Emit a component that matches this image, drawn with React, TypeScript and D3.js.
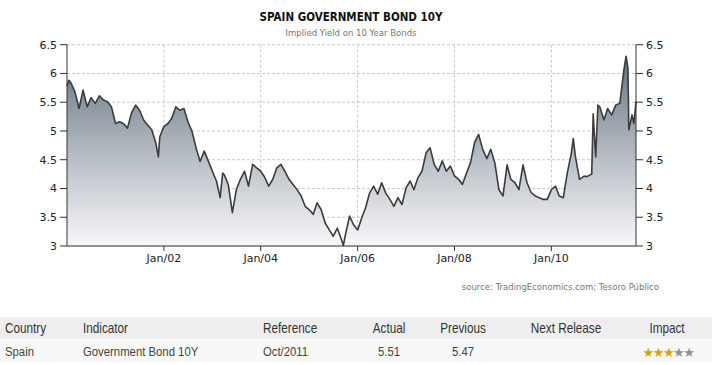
import React from 'react';
import { scaleTime, scaleLinear, line, area, timeParse, timeFormat } from 'd3';

// monthly yields (first of each month)
const yields2000 = [5.78, 5.83, 5.68, 5.39, 5.71, 5.42, 5.58, 5.48, 5.61, 5.54, 5.51, 5.42];
const yields2001 = [5.13, 5.16, 5.13, 5.05, 5.31, 5.45, 5.36, 5.19, 5.10, 5.02, 4.79, 4.90];
const yields2002 = [5.08, 5.13, 5.22, 5.42, 5.36, 5.39, 5.16, 4.99, 4.70, 4.47, 4.65, 4.48];
const yields2003 = [4.30, 4.13, 3.84, 4.24, 4.07, 3.58, 3.98, 4.16, 4.30, 4.04, 4.42, 4.36];
const yields2004 = [4.30, 4.19, 4.04, 4.16, 4.36, 4.42, 4.30, 4.16, 4.07, 3.98, 3.87, 3.69];
const yields2005 = [3.63, 3.55, 3.75, 3.63, 3.40, 3.28, 3.17, 3.31, 3.11, 3.20, 3.52, 3.37];
const yields2006 = [3.28, 3.49, 3.66, 3.92, 4.04, 3.90, 4.10, 3.92, 3.81, 3.69, 3.84, 3.72];
const yields2007 = [4.01, 4.13, 3.98, 4.19, 4.30, 4.62, 4.71, 4.42, 4.30, 4.48, 4.30, 4.39];
const yields2008 = [4.22, 4.16, 4.07, 4.27, 4.45, 4.80, 4.94, 4.68, 4.52, 4.68, 4.44, 3.98];
const yields2009 = [3.87, 4.41, 4.16, 4.10, 3.98, 4.41, 4.10, 3.93, 3.87, 3.84, 3.81, 3.81];
const yields2010 = [3.98, 4.04, 3.87, 3.84, 4.27, 4.62, 4.56, 4.16, 4.21, 4.21, 4.25, 4.55];
const yields2011 = [5.42, 5.19, 5.39, 5.28, 5.45, 5.48, 6.05, 6.10, 5.28, 5.51];

// intra-month highs / lows
const spikes: Array<[string, number]> = [
    ['2000-01-15', 5.88],
    ['2001-11-20', 4.55],
    ['2003-03-20', 4.27],
    ['2005-09-15', 3.01],
    ['2010-06-15', 4.87],
    ['2010-11-12', 5.30],
    ['2010-12-18', 5.45],
    ['2011-07-18', 6.30],
    ['2011-08-08', 5.02],
    ['2011-09-15', 5.13]
];

const yTicks = [3, 3.5, 4, 4.5, 5, 5.5, 6, 6.5];
const xTickDates = ['2002-01-01', '2004-01-01', '2006-01-01', '2008-01-01', '2010-01-01'];

const tableHeader = ['Country', 'Indicator', 'Reference', 'Actual', 'Previous', 'Next Release', 'Impact'];
const tableRow = ['Spain', 'Government Bond 10Y', 'Oct/2011', '5.51', '5.47', ''];
const impactStars = 3;

interface iPoint { date: Date, value: number }

const parse = timeParse('%Y-%m-%d');

function buildSeries(): Array<iPoint> {
    const years = [yields2000, yields2001, yields2002, yields2003, yields2004, yields2005,
        yields2006, yields2007, yields2008, yields2009, yields2010, yields2011];
    let pts: Array<iPoint> = [];
    years.forEach((arr, yi) => arr.forEach((v, mi) => pts.push({ date: new Date(2000 + yi, mi, 1), value: v })));
    spikes.forEach(s => pts.push({ date: parse(s[0]) as Date, value: s[1] }));
    pts.sort((a, b) => a.date.getTime() - b.date.getTime());
    return pts;
}

const App = () => {
    const data = buildSeries();
    const left = 67, right = 636, top = 44.7, bottom = 246;

    const x = scaleTime().domain([data[0].date, data[data.length - 1].date]).range([left, right]);
    const y = scaleLinear().domain([3, 6.5]).range([bottom, top]);

    const linefunc = line<iPoint>().x(d => x(d.date)).y(d => y(d.value));
    const areafunc = area<iPoint>().x(d => x(d.date)).y0(bottom).y1(d => y(d.value));
    const fmt = timeFormat('%b/%y');

    const axisFont = 'Tahoma, "DejaVu Sans", Verdana, sans-serif';
    const tableFont = '"Liberation Sans", Arial, sans-serif';
    const colX = [5, 83, 263, 389, 463, 566, 667];
    const narrow = 0.84;

    return (
        <svg width={712} height={365} style={{ position: 'absolute', left: 0, top: 0 }}>
            <defs>
                <linearGradient id="fillGrad" gradientUnits="userSpaceOnUse" x1={0} y1={top} x2={0} y2={bottom}>
                    <stop offset="0%" stopColor="#56636f" />
                    <stop offset="30%" stopColor="#8d98a3" />
                    <stop offset="65%" stopColor="#c5cad0" />
                    <stop offset="100%" stopColor="#f7f7f8" />
                </linearGradient>
            </defs>
            <rect x={0} y={0} width={712} height={365} fill="#fff" />

            <text x={351} y={21} textAnchor="middle" fontFamily='"DejaVu Sans Condensed", "DejaVu Sans", sans-serif' fontWeight="bold" fontSize={11.5} fill="#111">SPAIN GOVERNMENT BOND 10Y</text>
            <text x={351} y={36} textAnchor="middle" fontFamily={axisFont} fontSize={8.5} fill="#777">Implied Yield on 10 Year Bonds</text>

            {/* grid */}
            <g>
                {yTicks.map(t => (
                    <line key={t} x1={left} x2={right} y1={y(t)} y2={y(t)} stroke="#c8c8c8" strokeDasharray="3,2" />
                ))}
                {xTickDates.map(d => (
                    <line key={d} x1={x(parse(d) as Date)} x2={x(parse(d) as Date)} y1={top} y2={bottom} stroke="#c8c8c8" strokeDasharray="3,2" />
                ))}
            </g>

            <path d={areafunc(data) as string} fill="url(#fillGrad)" />
            <path d={linefunc(data) as string} fill="none" stroke="#3c3c3c" strokeWidth={1.6} strokeLinejoin="round" />

            {/* axes */}
            <line x1={left} x2={left} y1={top} y2={bottom} stroke="#333" strokeWidth={1} />
            <line x1={right} x2={right} y1={top} y2={bottom} stroke="#333" strokeWidth={1} />
            <line x1={left} x2={right} y1={bottom} y2={bottom} stroke="#333" strokeWidth={1} />
            {yTicks.map(t => (
                <g key={t}>
                    <line x1={left - 7} x2={left} y1={y(t)} y2={y(t)} stroke="#333" />
                    <text x={left - 10} y={y(t) + 4} textAnchor="end" fontFamily={axisFont} fontSize={11} fill="#222">{t}</text>
                    <line x1={right} x2={right + 7} y1={y(t)} y2={y(t)} stroke="#333" />
                    <text x={right + 10} y={y(t) + 4} textAnchor="start" fontFamily={axisFont} fontSize={11} fill="#222">{t}</text>
                </g>
            ))}
            {xTickDates.map(d => {
                const dt = parse(d) as Date;
                return (
                    <g key={d} transform={`translate(${x(dt)},${bottom})`}>
                        <line y2={5} stroke="#333" />
                        <text y={16} textAnchor="middle" fontFamily={axisFont} fontSize={11} fill="#222">{fmt(dt)}</text>
                    </g>
                );
            })}

            <text x={659} y={290} textAnchor="end" fontFamily={axisFont} fontSize={8.5} fill="#777">source: TradingEconomics.com; Tesoro Público</text>

            {/* table */}
            <rect x={0} y={317} width={712} height={22} fill="#eeeeee" />
            <rect x={0} y={339} width={712} height={23} fill="#f8f8f8" />
            {tableHeader.map((h, i) => (
                <text key={h} transform={`translate(${colX[i]},333) scale(${narrow},1)`} textAnchor={i < 3 ? 'start' : 'middle'} fontFamily={tableFont} fontSize={14} fill="#333">{h}</text>
            ))}
            {tableRow.map((c, i) => (
                <text key={i} transform={`translate(${colX[i]},356) scale(${narrow},1)`} textAnchor={i < 3 ? 'start' : 'middle'} fontFamily={tableFont} fontSize={13.5} fill="#444">{c}</text>
            ))}
            <text x={668} y={357} textAnchor="middle" fontFamily='"DejaVu Sans", sans-serif' fontSize={13} letterSpacing={-1.5}>
                {[0, 1, 2, 3, 4].map(i => (
                    <tspan key={i} fill={i < impactStars ? '#d9a300' : '#8b909a'}>★</tspan>
                ))}
            </text>
        </svg>
    );
}

export default App;
